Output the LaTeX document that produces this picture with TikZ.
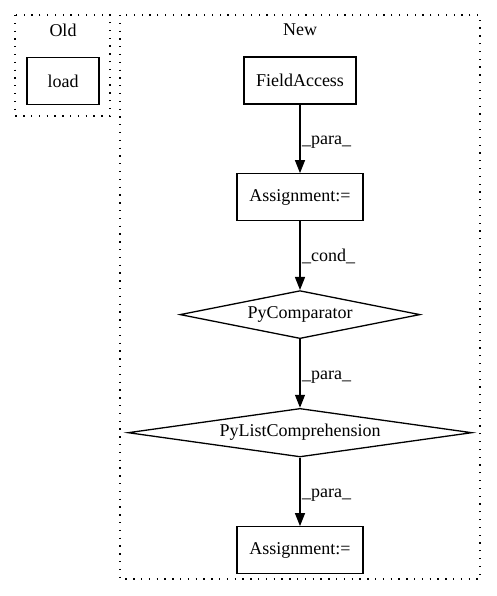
\documentclass[tikz,border=0pt]{standalone}
\usepackage{fontspec}
\setmainfont{Liberation Serif}
\usetikzlibrary{shapes,arrows.meta,positioning}

\begin{document}
\begin{tikzpicture}[
    x=1pt, y=-1pt,
    node distance=68.5pt,
    font=\fontsize{18}{21}\selectfont,
    box/.style={rectangle, draw, line width=1.3pt, minimum height=47pt, inner sep=0pt},
    cmp/.style={diamond, draw, line width=1.3pt, aspect=5, minimum height=48pt, inner sep=0pt},
    cluster/.style={draw, line width=1.3pt, dash pattern=on 1.3pt off 6.5pt},
    arrow/.style={-{Triangle[length=13pt,width=10pt]}, line width=1.3pt},
    elabel/.style={anchor=base west, inner sep=0pt, xshift=1.5pt, yshift=-6pt}
]
\useasboundingbox (0,0) rectangle (496,596);

% Clusters
\draw[cluster] (15,15) rectangle (110,116);
\draw[cluster] (120,15) rectangle (480,579);
\node (old) at (63,30) {Old};
\node (new) at (300,30) {New};

% Nodes
\node[box, minimum width=72pt] (load) at (63,81) {load};
\node[box, minimum width=112pt] (field) at (300,80.5) {FieldAccess};
\node[box, minimum width=126pt, below=of field] (assign1) {Assignment:=};
\node[cmp, minimum width=240pt, below=of assign1] (pycmp) {PyComparator};
\node[cmp, minimum width=344pt, below=of pycmp] (pylist) {PyListComprehension};
\node[box, minimum width=126pt, below=of pylist] (assign2) {Assignment:=};

% Arrows
\draw[arrow] (field) -- node[elabel] {\_para\_} (assign1);
\draw[arrow] (assign1) -- node[elabel] {\_cond\_} (pycmp);
\draw[arrow] (pycmp) -- node[elabel] {\_para\_} (pylist);
\draw[arrow] (pylist) -- node[elabel] {\_para\_} (assign2);

\end{tikzpicture}
\end{document}
